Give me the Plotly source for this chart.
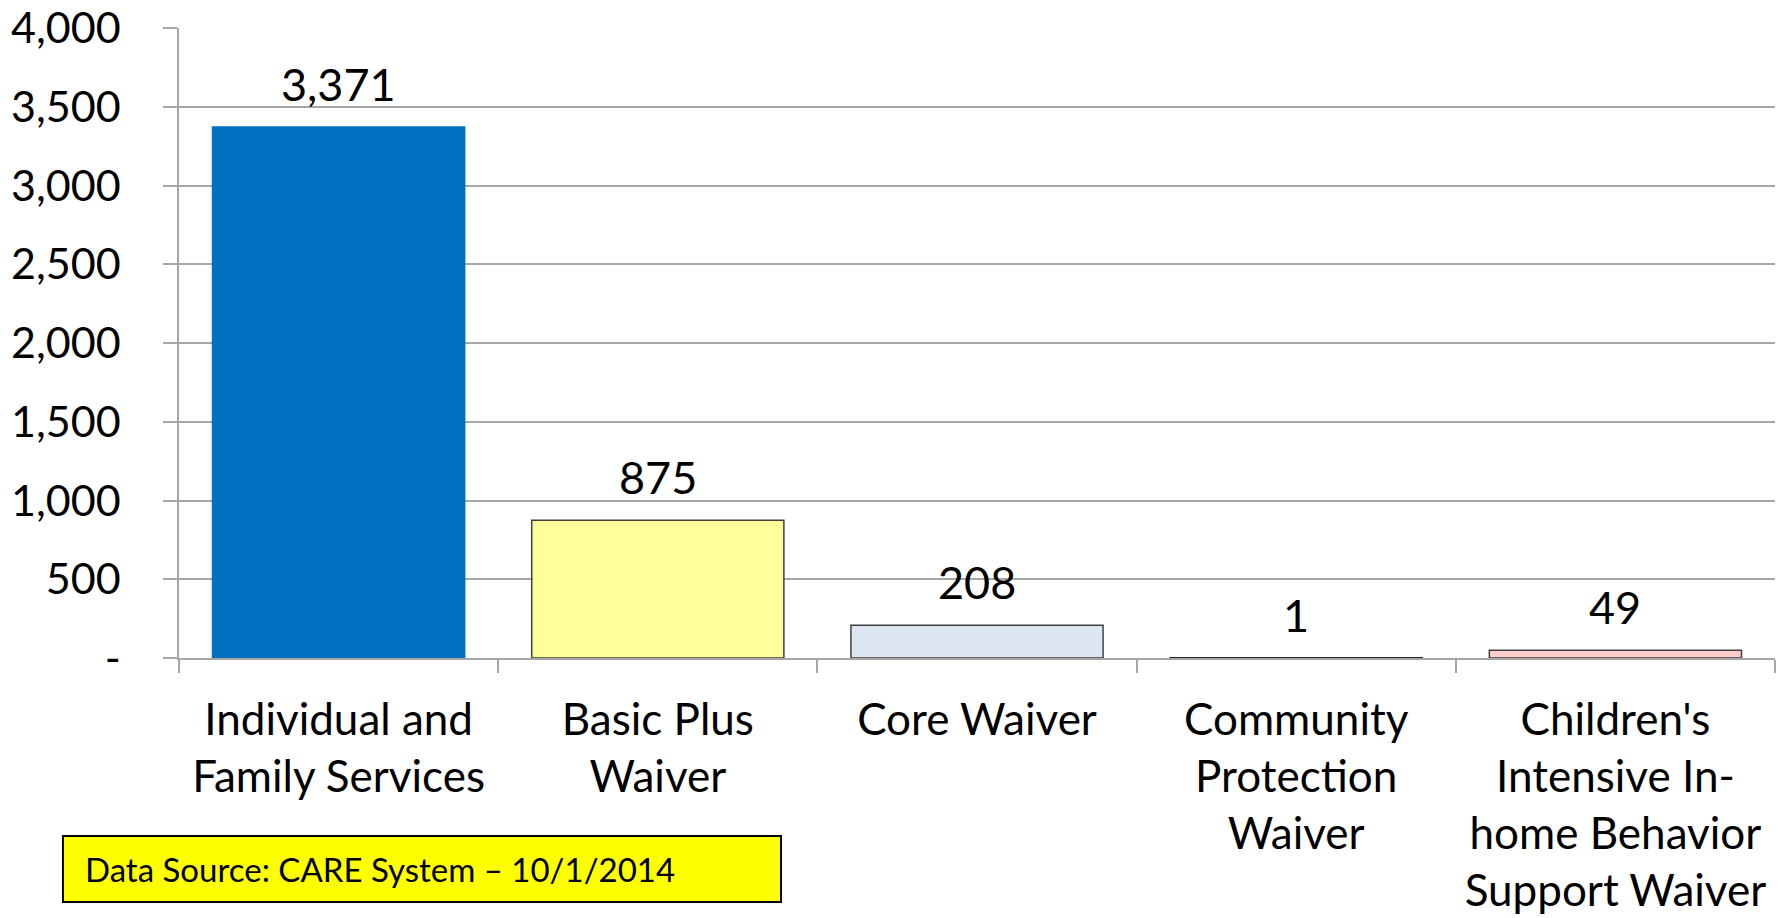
import plotly.graph_objects as go

# data
categories = [
    "Individual and<br>Family Services",
    "Basic Plus<br>Waiver",
    "Core Waiver",
    "Community<br>Protection<br>Waiver",
    "Children's<br>Intensive In-<br>home Behavior<br>Support Waiver",
]
clients = [3371, 875, 208, 1, 49]
bar_colors = ["#0070C0", "#FFFF99", "#DCE6F2", "#404040", "#FFCCCC"]
line_colors = ["#0070C0", "#404040", "#404040", "#262626", "#404040"]

y_tickvals = [0, 500, 1000, 1500, 2000, 2500, 3000, 3500, 4000]
y_ticktext = ["-", "500", "1,000", "1,500", "2,000", "2,500", "3,000", "3,500", "4,000"]

source_note = "Data Source: CARE System \u2013 10/1/2014"

FONT = "Lato, 'Open Sans', sans-serif"

fig = go.Figure(
    go.Bar(
        x=categories,
        y=clients,
        marker=dict(color=bar_colors, line=dict(color=line_colors, width=1.5)),
        hoverinfo="x+y",
    )
)

# value labels above each bar
for cat, val in zip(categories, clients):
    fig.add_annotation(
        x=cat, y=val, text=f"{val:,}", showarrow=False,
        yanchor="bottom", yshift=14,
        font=dict(family=FONT, size=45, color="black"),
    )

# yellow source box under the chart
fig.add_shape(
    type="rect", xref="paper", yref="paper",
    x0=-0.0727, x1=0.3772, y0=-0.3873, y1=-0.2825,
    fillcolor="#FFFF00", line=dict(color="black", width=2),
)
fig.add_annotation(
    xref="paper", yref="paper", x=-0.0602, y=-0.335,
    xanchor="left", yanchor="middle",
    text=source_note, showarrow=False,
    font=dict(family=FONT, size=33, color="black"),
)

# page body has an 8px margin, so the plot area is nudged up/left to match
fig.update_layout(
    width=1784, height=918,
    margin=dict(l=171, r=17, t=20, b=268),
    paper_bgcolor="white", plot_bgcolor="white",
    bargap=0.21,
    showlegend=False,
    font=dict(family=FONT, size=44, color="black"),
)

fig.update_xaxes(
    type="category", automargin=False,
    showline=True, linecolor="#A6A6A6", linewidth=1.5,
    ticks="outside", tickson="boundaries", ticklen=13,
    tickcolor="#A6A6A6", tickwidth=1.5,
    ticklabelstandoff=22,
    tickfont=dict(family=FONT, size=44, color="black"),
    showgrid=False,
)

fig.update_yaxes(
    range=[0, 4000], automargin=False,
    tickvals=y_tickvals, ticktext=y_ticktext,
    ticklabeloverflow="allow",
    showline=True, linecolor="#A6A6A6", linewidth=1.5,
    ticks="outside", ticklen=14, tickcolor="#A6A6A6", tickwidth=1.5,
    ticklabelstandoff=34,
    showgrid=True, gridcolor="#A6A6A6", gridwidth=1.5,
    zeroline=False,
    tickfont=dict(family=FONT, size=43, color="black"),
)

fig.write_html("out.html")
